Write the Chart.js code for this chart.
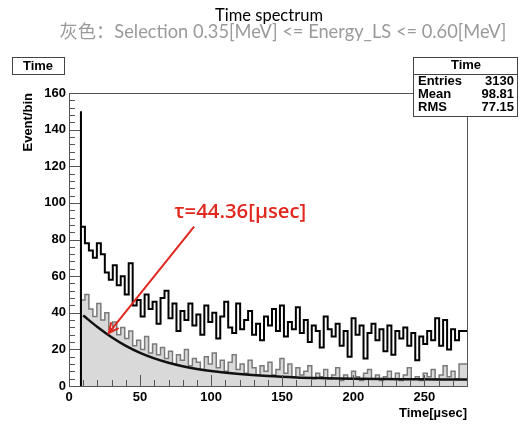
<!DOCTYPE html>
<html>
<head>
<meta charset="utf-8">
<script src="https://cdn.jsdelivr.net/npm/chart.js@4.4.0/dist/chart.umd.min.js"></script>
<style>
html, body { margin: 0; padding: 0; background: #fff; }
</style>
</head>
<body>
<canvas id="myChart" width="521" height="426"></canvas>
<script>
// histogram binning (100 bins over 0-280, filled from 8.4 on)
const binStart = 8.4;
const binWidth = 2.8;

// all events (black line)
const allCounts = [
    150, 87, 78, 74, 70, 78, 72, 62, 58, 66,
    55, 60, 50, 67, 44, 47, 38, 50, 42, 46,
    34, 48, 52, 37, 45, 30, 41, 36, 45, 33,
    39, 28, 44, 35, 40, 26, 38, 46, 32, 29,
    45, 31, 36, 41, 28, 34, 25, 38, 33, 42,
    30, 44, 27, 35, 31, 43, 29, 36, 24, 33,
    30, 21, 38, 31, 27, 34, 22, 30, 16, 37,
    28, 33, 15, 29, 34, 25, 31, 19, 33, 17,
    30, 26, 32, 22, 29, 14, 27, 23, 30, 25,
    37, 22, 36, 20, 31, 25, 30
];

// selection 0.35-0.60 MeV (grey filled)
const lowCounts = [
    110, 47, 50, 42, 38, 45, 36, 40, 31, 35,
    28, 32, 26, 30, 22, 25, 20, 27, 18, 23,
    17, 21, 15, 19, 12, 17, 14, 20, 11, 15,
    13, 9, 16, 12, 18, 10, 14, 8, 13, 17,
    9, 12, 7, 14, 10, 6, 11, 8, 13, 6,
    9, 15, 7, 12, 5, 10, 6, 8, 11, 4,
    7, 5, 9, 4, 6, 10, 3, 6, 4, 8,
    5, 3, 7, 9, 4, 6, 3, 5, 8, 4,
    7, 3, 6, 10, 4, 5, 3, 7, 5, 9,
    4, 6, 11, 5, 8, 4, 12
];

// exponential fit
const fitTimes = [10, 20, 30, 40, 50, 60, 70, 80, 90, 100, 120, 140, 160, 180, 200, 220, 240, 260, 280];
const fitValues = [38.5, 32.2, 26.6, 21.9, 18.1, 15.1, 12.7, 10.8, 9.3, 8.2, 6.5, 5.4, 4.7, 4.3, 4.0, 3.8, 3.7, 3.6, 3.6];

const xTicks = [0, 50, 100, 150, 200, 250];
const yTicks = [0, 20, 40, 60, 80, 100, 120, 140, 160];

const statsLabels = ["Entries", "Mean", "RMS"];
const statsValues = ["3130", "98.81", "77.15"];

const titleText = "Time spectrum";
const subtitleText = "灰色：Selection 0.35[MeV] <= Energy_LS <= 0.60[MeV]";
const tauText = "τ=44.36[µsec]";

const histPoints = (counts) => {
    const pts = [{ x: binStart, y: 0 }];
    counts.forEach((c, i) => pts.push({ x: binStart + i * binWidth, y: c }));
    pts.push({ x: binStart + counts.length * binWidth, y: counts[counts.length - 1] });
    return pts;
};

const axisFont = { family: "'Liberation Sans', Arial, sans-serif", size: 13, weight: "bold" };

// pick a font size so the text spans the wanted width
const fitFont = (ctx, text, prefix, family, width) => {
    ctx.font = prefix + " 20px " + family;
    const size = 20 * width / ctx.measureText(text).width;
    ctx.font = prefix + " " + size.toFixed(2) + "px " + family;
};

const rootFrame = {
    id: "rootFrame",
    afterDatasetsDraw(chart) {
        const { ctx, chartArea: a, scales } = chart;
        const xs = scales.x, ys = scales.y;
        ctx.save();

        // frame
        ctx.strokeStyle = "#555";
        ctx.lineWidth = 1;
        ctx.strokeRect(a.left + 0.5, a.top + 0.5, a.right - a.left, a.bottom - a.top);

        // inward ticks
        ctx.beginPath();
        for (let v = 0; v <= 160; v += 4) {
            const y = Math.round(ys.getPixelForValue(v)) + 0.5;
            const len = v % 20 === 0 ? 11 : 6;
            ctx.moveTo(a.left, y);
            ctx.lineTo(a.left + len, y);
        }
        for (let t = 0; t <= 280; t += 10) {
            const x = Math.round(xs.getPixelForValue(t)) + 0.5;
            const len = t % 50 === 0 ? 11 : 6;
            ctx.moveTo(x, a.bottom);
            ctx.lineTo(x, a.bottom - len);
        }
        ctx.stroke();

        // axis titles
        ctx.fillStyle = "#000";
        ctx.font = "bold 13px 'Liberation Sans', Arial, sans-serif";
        ctx.textAlign = "right";
        ctx.textBaseline = "middle";
        ctx.fillText("Time[µsec]", a.right, 413);
        ctx.save();
        ctx.translate(28, a.top);
        ctx.rotate(-Math.PI / 2);
        ctx.textAlign = "right";
        ctx.fillText("Event/bin", 0, 0);
        ctx.restore();

        // titles
        ctx.textAlign = "center";
        ctx.fillStyle = "#000";
        fitFont(ctx, titleText, "", "Lato, 'Noto Sans CJK SC', sans-serif", 108);
        ctx.fillText(titleText, 269, 16);
        ctx.fillStyle = "#9a9a9a";
        fitFont(ctx, subtitleText, "", "Lato, 'Noto Sans CJK SC', sans-serif", 447);
        ctx.fillText(subtitleText, 283, 32);

        // histogram name box
        ctx.fillStyle = "#fff";
        ctx.fillRect(12, 57, 52, 17);
        ctx.strokeStyle = "#444";
        ctx.strokeRect(12.5, 57.5, 52, 17);
        ctx.fillStyle = "#000";
        ctx.font = "bold 13px 'Liberation Sans', Arial, sans-serif";
        ctx.fillText("Time", 38, 66);

        // stats box
        ctx.fillStyle = "#fff";
        ctx.fillRect(413, 57, 104, 59);
        ctx.strokeRect(413.5, 57.5, 104, 59);
        ctx.beginPath();
        ctx.moveTo(413, 74.5);
        ctx.lineTo(517, 74.5);
        ctx.stroke();
        ctx.fillStyle = "#000";
        ctx.fillText("Time", 466, 65.5);
        statsLabels.forEach((lab, i) => {
            const y = 81.5 + i * 13;
            ctx.textAlign = "left";
            ctx.fillText(lab, 418, y);
            ctx.textAlign = "right";
            ctx.fillText(statsValues[i], 514, y);
        });

        // fit annotation
        ctx.fillStyle = "rgb(225,40,30)";
        ctx.textAlign = "center";
        fitFont(ctx, tauText, "600", "'Open Sans', sans-serif", 132);
        ctx.fillText(tauText, xs.getPixelForValue(120.5), ys.getPixelForValue(95));
        const x0 = xs.getPixelForValue(88), y0 = ys.getPixelForValue(87);
        const x1 = xs.getPixelForValue(28), y1 = ys.getPixelForValue(29);
        ctx.strokeStyle = "rgb(225,40,30)";
        ctx.lineWidth = 2;
        ctx.beginPath();
        ctx.moveTo(x0, y0);
        ctx.lineTo(x1, y1);
        const ang = Math.atan2(y1 - y0, x1 - x0);
        const hl = 11;
        ctx.moveTo(x1 - hl * Math.cos(ang - 0.45), y1 - hl * Math.sin(ang - 0.45));
        ctx.lineTo(x1, y1);
        ctx.lineTo(x1 - hl * Math.cos(ang + 0.45), y1 - hl * Math.sin(ang + 0.45));
        ctx.stroke();

        ctx.restore();
    }
};

const ctx = document.getElementById("myChart").getContext("2d");
const myChart = new Chart(ctx, {
    type: "line",
    data: {
        datasets: [
            {
                label: "fit",
                data: fitTimes.map((t, i) => ({ x: t, y: fitValues[i] })),
                borderColor: "#111",
                borderWidth: 2.5,
                pointRadius: 0,
                cubicInterpolationMode: "monotone",
                fill: false
            },
            {
                label: "all",
                data: histPoints(allCounts),
                stepped: "after",
                borderColor: "#000",
                borderWidth: 2,
                pointRadius: 0,
                fill: false
            },
            {
                label: "selection",
                data: histPoints(lowCounts),
                stepped: "after",
                borderColor: "#7a7a7a",
                borderWidth: 1.5,
                backgroundColor: "#d9d9d9",
                pointRadius: 0,
                fill: "origin"
            }
        ]
    },
    options: {
        responsive: false,
        animation: false,
        devicePixelRatio: 1,
        layout: { padding: { top: 93, right: 54, left: 0, bottom: 0 } },
        plugins: {
            legend: { display: false },
            tooltip: { enabled: false }
        },
        scales: {
            x: {
                type: "linear",
                min: 0,
                max: 280,
                grid: { display: false, drawTicks: false },
                border: { display: false },
                ticks: {
                    stepSize: 50,
                    includeBounds: false,
                    color: "#000",
                    font: axisFont,
                    padding: 4,
                    maxRotation: 0,
                    callback: (v) => xTicks.includes(v) ? v : ""
                },
                afterFit: (s) => { s.height = 40; }
            },
            y: {
                min: 0,
                max: 160,
                grid: { display: false, drawTicks: false },
                border: { display: false },
                ticks: {
                    stepSize: 20,
                    includeBounds: false,
                    color: "#000",
                    font: axisFont,
                    padding: 3,
                    callback: (v) => yTicks.includes(v) ? v : ""
                },
                afterFit: (s) => { s.width = 69; }
            }
        }
    },
    plugins: [rootFrame]
});
</script>
</body>
</html>
